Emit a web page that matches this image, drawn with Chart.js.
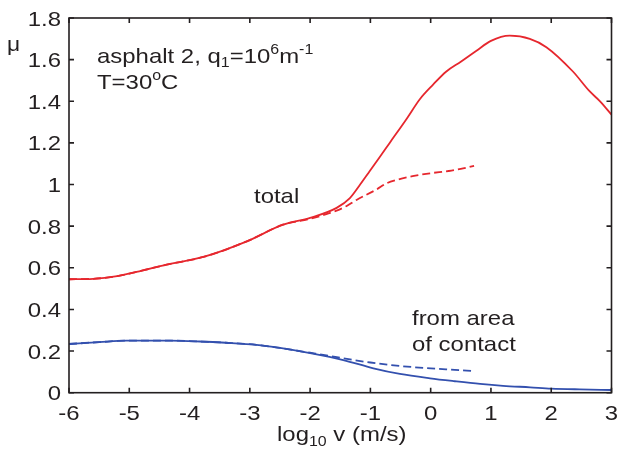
<!DOCTYPE html>
<html lang="en">
<head>
    <meta charset="UTF-8">
    <title>asphalt 2 friction</title>
    <style>
        body { margin: 0; padding: 0; background: #fff; overflow: hidden; }
        canvas { display: block; }
    </style>
    <script src="https://cdn.jsdelivr.net/npm/chart.js"></script>
</head>
<body>
<canvas id="muChart" width="617" height="450"></canvas>
<script>
    // values (x = log10 v, y = mu)
    const totalX = [-6, -5.6, -5.2, -4.88, -4.38, -3.77, -3.05, -2.45, -2.0, -1.56, -1.34, -1.17, -1.01, -0.85, -0.68, -0.40, -0.18, 0.04, 0.26, 0.5, 0.76, 1.0, 1.31, 1.645, 1.92, 2.36, 2.64, 2.81, 3];
    const totalY = [0.545, 0.547, 0.56, 0.58, 0.615, 0.652, 0.727, 0.807, 0.84, 0.888, 0.935, 1.0, 1.065, 1.13, 1.2, 1.315, 1.41, 1.48, 1.543, 1.59, 1.643, 1.69, 1.715, 1.70, 1.66, 1.543, 1.447, 1.40, 1.336];

    const totalDashX = [-6, -5.6, -5.2, -4.88, -4.38, -3.77, -3.05, -2.45, -2.0, -1.56, -1.4, -1.23, -0.9, -0.73, -0.57, -0.3, -0.01, 0.3, 0.5, 0.72];
    const totalDashY = [0.545, 0.547, 0.56, 0.58, 0.615, 0.652, 0.727, 0.807, 0.835, 0.875, 0.896, 0.926, 0.976, 1.006, 1.022, 1.04, 1.054, 1.065, 1.075, 1.09];

    const contactX = [-6, -5.5, -5.04, -4.32, -3.83, -3.4, -2.89, -2.5, -2.0, -1.45, -0.95, -0.51, -0.01, 0.4, 0.82, 1.2, 1.65, 2.0, 2.47, 3];
    const contactY = [0.234, 0.243, 0.25, 0.25, 0.246, 0.24, 0.23, 0.215, 0.19, 0.157, 0.117, 0.09, 0.069, 0.055, 0.042, 0.033, 0.026, 0.02, 0.016, 0.013];

    const contactDashX = [-6, -5.5, -5.04, -4.32, -3.83, -3.4, -2.89, -2.5, -2.0, -1.7, -1.45, -1.0, -0.5, 0, 0.4, 0.73];
    const contactDashY = [0.234, 0.243, 0.25, 0.25, 0.246, 0.24, 0.23, 0.215, 0.192, 0.178, 0.165, 0.145, 0.128, 0.117, 0.11, 0.104];

    const xTicks = [-6, -5, -4, -3, -2, -1, 0, 1, 2, 3];
    const yTicks = [0, 0.2, 0.4, 0.6, 0.8, 1, 1.2, 1.4, 1.6, 1.8];
    const xTickLabels = ['-6', '-5', '-4', '-3', '-2', '-1', '0', '1', '2', '3'];
    const yTickLabels = ['0', '0.2', '0.4', '0.6', '0.8', '1', '1.2', '1.4', '1.6', '1.8'];

    const RED = '#e6272e';
    const BLUE = '#3350ae';
    const INK = '#231f20';
    const FONT = '"Liberation Sans", Arial, sans-serif';
    const SX = 1.14; // the original lettering is a bit wider than Arial

    function pts(xs, ys) {
        return xs.map((x, i) => ({ x: x, y: ys[i] }));
    }

    // draws a row of text pieces, some raised or lowered, stretched sideways by SX
    function runs(c, x, y, parts, align) {
        let w = 0;
        parts.forEach(p => {
            c.font = (p.size || 21) + 'px ' + FONT;
            w += c.measureText(p.t).width;
        });
        let cx = 0;
        c.save();
        c.translate(x, y);
        c.scale(SX, 1);
        if (align === 'right') cx = -w;
        if (align === 'center') cx = -w / 2;
        parts.forEach(p => {
            c.font = (p.size || 21) + 'px ' + FONT;
            c.fillText(p.t, cx, p.dy || 0);
            cx += c.measureText(p.t).width;
        });
        c.restore();
    }

    // box round the plot with the ticks pointing inward, plus the tick labels
    const framePlugin = {
        id: 'frame',
        afterDatasetsDraw(chart) {
            const c = chart.ctx;
            const a = chart.chartArea;
            const xs = chart.scales.x, ys = chart.scales.y;
            c.save();
            c.strokeStyle = INK;
            c.lineWidth = 1.6;
            c.strokeRect(a.left, a.top, a.right - a.left, a.bottom - a.top);
            c.beginPath();
            xTicks.forEach(v => {
                const px = xs.getPixelForValue(v);
                c.moveTo(px, a.bottom); c.lineTo(px, a.bottom - 5);
                c.moveTo(px, a.top); c.lineTo(px, a.top + 5);
            });
            yTicks.forEach(v => {
                const py = ys.getPixelForValue(v);
                c.moveTo(a.left, py); c.lineTo(a.left + 5, py);
                c.moveTo(a.right, py); c.lineTo(a.right - 5, py);
            });
            c.stroke();

            c.fillStyle = INK;
            c.textBaseline = 'alphabetic';
            xTicks.forEach((v, i) => {
                runs(c, xs.getPixelForValue(v), a.bottom + 27, [{ t: xTickLabels[i] }], 'center');
            });
            yTicks.forEach((v, i) => {
                runs(c, a.left - 8, ys.getPixelForValue(v) + 7.5, [{ t: yTickLabels[i] }], 'right');
            });
            c.restore();
        }
    };

    const textPlugin = {
        id: 'labels',
        afterDraw(chart) {
            const c = chart.ctx;
            c.save();
            c.fillStyle = INK;
            c.textBaseline = 'alphabetic';
            runs(c, 97, 63, [
                { t: 'asphalt 2, q' }, { t: '1', size: 14, dy: 4 }, { t: '=10' },
                { t: '6', size: 14, dy: -9 }, { t: 'm' }, { t: '-1', size: 14, dy: -9 }
            ]);
            runs(c, 97, 89, [{ t: 'T=30' }, { t: 'o', size: 14, dy: -9 }, { t: 'C' }]);
            runs(c, 254, 203, [{ t: 'total' }]);
            runs(c, 412, 325, [{ t: 'from area' }]);
            runs(c, 412, 351, [{ t: 'of contact' }]);
            runs(c, 277, 441, [{ t: 'log' }, { t: '10', size: 14, dy: 5 }, { t: ' v (m/s)' }]);
            runs(c, 7, 51, [{ t: 'μ', size: 20 }]);
            c.restore();
        }
    };

    const ctx = document.getElementById('muChart').getContext('2d');
    new Chart(ctx, {
        type: 'line',
        data: {
            datasets: [
                { data: pts(totalDashX, totalDashY), borderColor: RED, borderWidth: 1.8, borderDash: [8, 4] },
                { data: pts(totalX, totalY), borderColor: RED, borderWidth: 1.8 },
                { data: pts(contactDashX, contactDashY), borderColor: BLUE, borderWidth: 1.8, borderDash: [8, 4] },
                { data: pts(contactX, contactY), borderColor: BLUE, borderWidth: 1.8 }
            ]
        },
        options: {
            responsive: false,
            animation: false,
            devicePixelRatio: 1,
            parsing: false,
            layout: { padding: { top: 18, right: 5.5, left: 0, bottom: 0 } },
            elements: {
                point: { radius: 0 },
                line: { cubicInterpolationMode: 'monotone', fill: false }
            },
            plugins: { legend: { display: false }, tooltip: { enabled: false } },
            scales: {
                x: {
                    type: 'linear', min: -6, max: 3,
                    grid: { display: false, drawTicks: false },
                    border: { display: false },
                    ticks: { display: false },
                    afterFit: s => { s.height = 57.3; }
                },
                y: {
                    type: 'linear', min: 0, max: 1.8,
                    grid: { display: false, drawTicks: false },
                    border: { display: false },
                    ticks: { display: false },
                    afterFit: s => { s.width = 69; }
                }
            }
        },
        plugins: [framePlugin, textPlugin]
    });
</script>
</body>
</html>
